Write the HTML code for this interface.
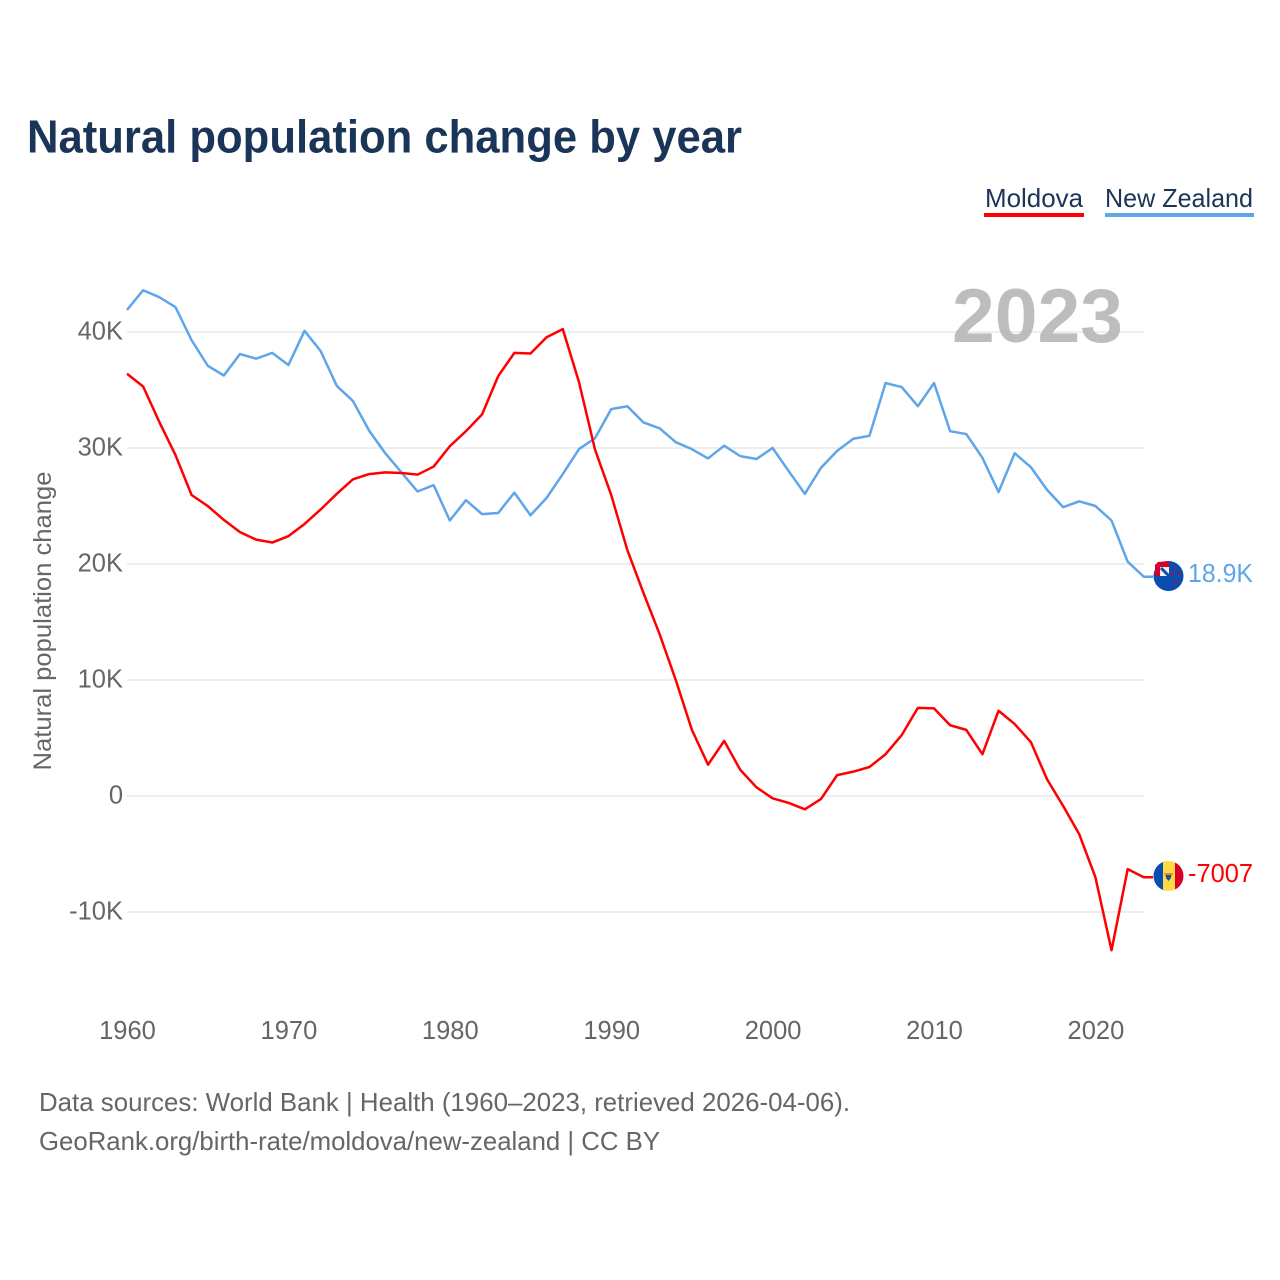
<!DOCTYPE html>
<html lang="en">
<head>
<meta charset="utf-8">
<title>Natural population change by year</title>
<style>
  html, body { margin: 0; padding: 0; background: #fff; }
  svg { display: block; font-family: "Liberation Sans", sans-serif; }
</style>
</head>
<body>
<svg id="chart" width="1280" height="1280" viewBox="0 0 1280 1280" xmlns="http://www.w3.org/2000/svg">
  <defs>
    <clipPath id="flag-clip-nz"><circle cx="1168.500" cy="576" r="15"/></clipPath>
    <clipPath id="flag-clip-md"><circle cx="1168.500" cy="876" r="15"/></clipPath>
  </defs>
  <rect width="1280" height="1280" fill="#fff"/>
  <text x="27" y="152.500" font-size="46" font-weight="700" fill="#1a3557" textLength="715" lengthAdjust="spacingAndGlyphs">Natural population change by year</text>

  <g id="grid"></g>
  <g id="y-ticks"></g>
  <g id="x-ticks"></g>

  <text x="1123" y="342" text-anchor="end" font-size="76" font-weight="700" fill="#bdbdbd" textLength="171" lengthAdjust="spacingAndGlyphs">2023</text>

  <text transform="translate(51 621) rotate(-90)" text-anchor="middle" font-size="25" fill="#666" textLength="299" lengthAdjust="spacingAndGlyphs">Natural population change</text>

  <g>
    <text x="985" y="207" font-size="26" fill="#1a3557" textLength="98" lengthAdjust="spacingAndGlyphs">Moldova</text>
    <rect x="984" y="213" width="100" height="4" fill="#ff0000"/>
  </g>
  <g>
    <text x="1105" y="207" font-size="26" fill="#1a3557" textLength="148" lengthAdjust="spacingAndGlyphs">New Zealand</text>
    <rect x="1105" y="213" width="149" height="4" fill="#5fa5ea"/>
  </g>

  <path id="line-new-zealand" fill="none" stroke="#5fa5ea" stroke-width="2.500" stroke-linejoin="round"/>
  <path id="line-moldova" fill="none" stroke="#ff0000" stroke-width="2.500" stroke-linejoin="round"/>

  <g>
    <circle cx="1168.500" cy="576" r="15" fill="#0a4db0"/>
    <polygon points="1155,576 1155,565 1158,562 1169,561 1169,576" fill="#d80027"/>
    <polygon points="1160,576 1160,567 1169,567 1169,576" fill="#f0f0f0"/>
    <line x1="1161" y1="568" x2="1169" y2="576" stroke="#0a4db0" stroke-width="3"/>
    <circle cx="1175" cy="569" r="1.200" fill="#d80027"/>
    <circle cx="1172" cy="574" r="1.200" fill="#d80027"/>
    <circle cx="1179" cy="574" r="1.200" fill="#d80027"/>
    <circle cx="1175" cy="582" r="1.400" fill="#d80027"/>
  </g>
  <g clip-path="url(#flag-clip-md)">
    <rect x="1153" y="861" width="10" height="30" fill="#0a4db0"/>
    <rect x="1163" y="861" width="12" height="30" fill="#ffda44"/>
    <rect x="1175" y="861" width="9" height="30" fill="#d80027"/>
    <polygon points="1164,873 1173.500,873 1171,877 1166,877" fill="#e08a2c"/>
    <polygon points="1166,875 1171,875 1171,878 1168.500,881 1166,878" fill="#1f4fa0"/>
  </g>

  <text x="1188" y="582" font-size="26" fill="#5fa5ea" textLength="65" lengthAdjust="spacingAndGlyphs">18.9K</text>
  <text x="1188" y="882" font-size="26" fill="#ff0000" textLength="65" lengthAdjust="spacingAndGlyphs">-7007</text>

  <text x="39" y="1111" font-size="26" fill="#666" textLength="811" lengthAdjust="spacingAndGlyphs">Data sources: World Bank | Health (1960–2023, retrieved 2026-04-06).</text>
  <text x="39" y="1150" font-size="26" fill="#666" textLength="621" lengthAdjust="spacingAndGlyphs">GeoRank.org/birth-rate/moldova/new-zealand | CC BY</text>
</svg>
<script>
const startYear = 1960;
const xTickYears = [1960, 1970, 1980, 1990, 2000, 2010, 2020];
const yTickValues = [-10, 0, 10, 20, 30, 40];
const yTickLabels = ["-10K", "0", "10K", "20K", "30K", "40K"];
const newZealandValues = [41.9, 43.6, 43.0, 42.15, 39.3, 37.1, 36.25, 38.1, 37.7, 38.2, 37.15, 40.1, 38.35, 35.35, 34.05, 31.5, 29.55, 27.9, 26.25, 26.8, 23.75, 25.5, 24.3, 24.4, 26.15, 24.2, 25.7, 27.75, 29.9, 30.85, 33.35, 33.6, 32.2, 31.7, 30.5, 29.9, 29.1, 30.2, 29.3, 29.05, 30.0, 28.0, 26.05, 28.3, 29.75, 30.8, 31.05, 35.6, 35.25, 33.6, 35.6, 31.45, 31.2, 29.15, 26.2, 29.55, 28.35, 26.4, 24.9, 25.4, 25.0, 23.75, 20.2, 18.9];
const moldovaValues = [36.4, 35.3, 32.25, 29.4, 25.95, 25.0, 23.8, 22.75, 22.1, 21.85, 22.4, 23.45, 24.7, 26.05, 27.3, 27.75, 27.9, 27.85, 27.7, 28.4, 30.15, 31.45, 32.9, 36.2, 38.2, 38.15, 39.55, 40.25, 35.7, 29.85, 25.95, 21.2, 17.5, 13.95, 10.0, 5.7, 2.7, 4.75, 2.25, 0.75, -0.2, -0.6, -1.15, -0.25, 1.8, 2.1, 2.5, 3.6, 5.25, 7.6, 7.55, 6.1, 5.7, 3.6, 7.35, 6.2, 4.65, 1.45, -0.85, -3.3, -7.0, -13.3, -6.3, -7.007];

const NS = "http://www.w3.org/2000/svg";
function xScale(year) { return 127 + (year - 1960) * 16.14; }
function yScale(value) { return 796 - value * 11.6; }
function linePath(values) {
  const points = values.map(function (v, i) {
    return (i ? "L" : "M") + xScale(startYear + i).toFixed(2) + " " + yScale(v).toFixed(2);
  });
  /* short flat leader from the final point to the flag */
  points.push("H1153");
  return points.join(" ");
}

const gridGroup = document.getElementById("grid");
const yTickGroup = document.getElementById("y-ticks");
const xTickGroup = document.getElementById("x-ticks");

yTickValues.forEach(function (v, i) {
  const gridLine = document.createElementNS(NS, "line");
  
  
  gridLine.setAttribute("x1", 127);
  gridLine.setAttribute("x2", 1144);
  gridLine.setAttribute("y1", yScale(v));
  gridLine.setAttribute("y2", yScale(v));
  gridLine.setAttribute("stroke", "#eeeeee");
  gridLine.setAttribute("stroke-width", 2);
  gridGroup.appendChild(gridLine);

  const tickLabel = document.createElementNS(NS, "text");
  
  
  tickLabel.setAttribute("x", 123);
  tickLabel.setAttribute("y", yScale(v) + 7.500);
  tickLabel.setAttribute("text-anchor", "end");
  tickLabel.setAttribute("font-size", "25.5");
  tickLabel.setAttribute("fill", "#666");
  tickLabel.textContent = yTickLabels[i];
  yTickGroup.appendChild(tickLabel);
});

xTickYears.forEach(function (year) {
  const xLabel = document.createElementNS(NS, "text");
  
  
  xLabel.setAttribute("x", xScale(year) + 0.500);
  xLabel.setAttribute("y", 1039);
  xLabel.setAttribute("text-anchor", "middle");
  xLabel.setAttribute("font-size", "25.5");
  xLabel.setAttribute("fill", "#666");
  xLabel.textContent = String(year);
  xTickGroup.appendChild(xLabel);
});

document.getElementById("line-new-zealand").setAttribute("d", linePath(newZealandValues));
document.getElementById("line-moldova").setAttribute("d", linePath(moldovaValues));
</script>
</body>
</html>
